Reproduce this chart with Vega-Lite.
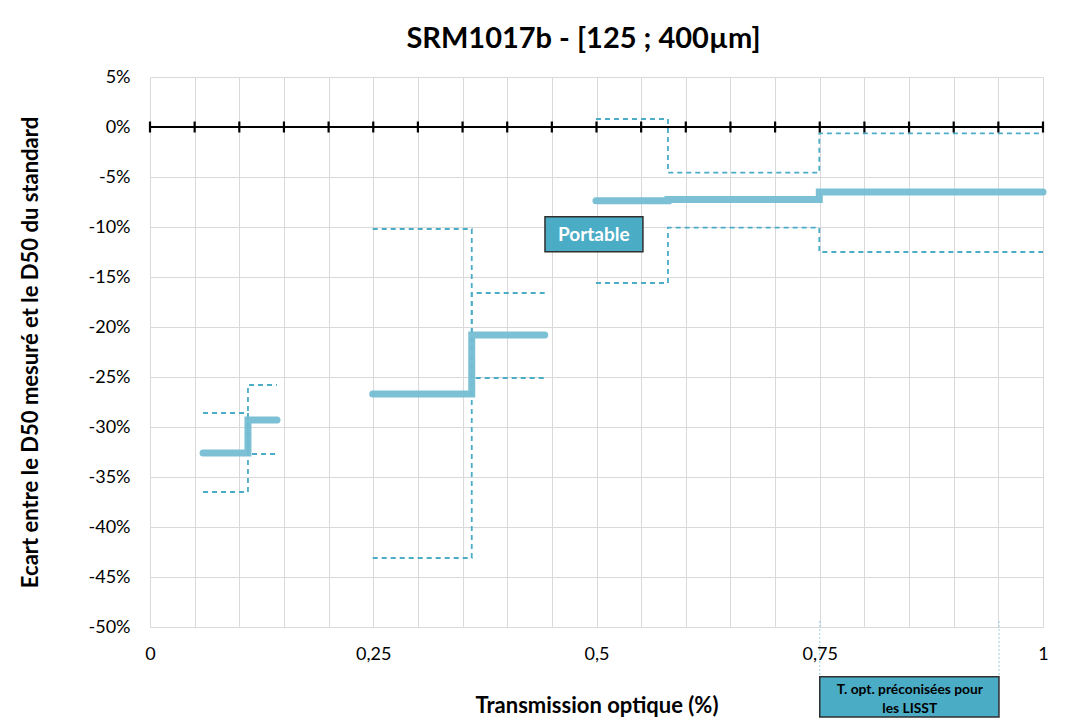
{
  "$schema": "https://vega.github.io/schema/vega-lite/v6.json",
  "width": 893,
  "height": 550,
  "autosize": "none",
  "padding": {"left": 150, "top": 77, "right": 37, "bottom": 94},
  "background": "white",
  "config": {"font": "Lato", "view": {"stroke": null}},
  "title": {"text": "SRM1017b - [125 ; 400µm]", "font": "Lato", "fontSize": 29, "fontWeight": "bold", "color": "#000000", "offset": 14, "dx": -13},
  "datasets": {
    "mean": [
      {"path": "m1", "x": 0.0594, "y": -32.6}, {"path": "m1", "x": 0.1097, "y": -29.3}, {"path": "m1", "x": 0.1422, "y": -29.3},
      {"path": "m2", "x": 0.2494, "y": -26.7}, {"path": "m2", "x": 0.3603, "y": -20.8}, {"path": "m2", "x": 0.442, "y": -20.8},
      {"path": "m3", "x": 0.4994, "y": -7.37}, {"path": "m3", "x": 0.58, "y": -7.25}, {"path": "m3", "x": 0.7495, "y": -6.5}, {"path": "m3", "x": 1.0, "y": -6.5}
    ],
    "bounds": [
      {"path": "a1", "x": 0.0594, "y": -28.6}, {"path": "a1", "x": 0.1097, "y": -32.7}, {"path": "a1", "x": 0.1422, "y": -32.7},
      {"path": "b1", "x": 0.0594, "y": -36.5}, {"path": "b1", "x": 0.1097, "y": -25.8}, {"path": "b1", "x": 0.1422, "y": -25.8},
      {"path": "a2", "x": 0.2494, "y": -10.2}, {"path": "a2", "x": 0.3603, "y": -25.1}, {"path": "a2", "x": 0.442, "y": -25.1},
      {"path": "b2", "x": 0.2494, "y": -43.1}, {"path": "b2", "x": 0.3603, "y": -16.6}, {"path": "b2", "x": 0.442, "y": -16.6},
      {"path": "a3", "x": 0.4994, "y": 0.8}, {"path": "a3", "x": 0.58, "y": -4.57}, {"path": "a3", "x": 0.7495, "y": -0.63}, {"path": "a3", "x": 1.0, "y": -0.63},
      {"path": "b3", "x": 0.4994, "y": -15.6}, {"path": "b3", "x": 0.58, "y": -10.07}, {"path": "b3", "x": 0.7495, "y": -12.5}, {"path": "b3", "x": 1.0, "y": -12.5}
    ],
    "zeroticks": [
      {"x": 0, "y": 0}, {"x": 0.05, "y": 0}, {"x": 0.1, "y": 0}, {"x": 0.15, "y": 0}, {"x": 0.2, "y": 0}, {"x": 0.25, "y": 0}, {"x": 0.3, "y": 0},
      {"x": 0.35, "y": 0}, {"x": 0.4, "y": 0}, {"x": 0.45, "y": 0}, {"x": 0.5, "y": 0}, {"x": 0.55, "y": 0}, {"x": 0.6, "y": 0}, {"x": 0.65, "y": 0},
      {"x": 0.7, "y": 0}, {"x": 0.75, "y": 0}, {"x": 0.8, "y": 0}, {"x": 0.85, "y": 0}, {"x": 0.9, "y": 0}, {"x": 0.95, "y": 0}, {"x": 1.0, "y": 0}
    ],
    "boxes": [
      {"label": "Portable", "x": 0.4423, "x2": 0.552, "y": -8.97, "y2": -12.47},
      {"label": "LISST", "x": 0.75, "x2": 0.9507, "y": -54.97, "y2": -59.0}
    ],
    "boxtext": [
      {"label": "Portable", "text": "Portable", "x": 0.497, "y": -10.8, "color": "white"},
      {"label": "LISST", "text": "T. opt. préconisées pour\nles LISST", "x": 0.8508, "y": -56.3, "color": "black"}
    ],
    "markers": [
      {"x": 0.75, "y": -49.4, "y2": -55.0},
      {"x": 0.9507, "y": -49.4, "y2": -55.0}
    ],
    "zero": [{"y": 0}]
  },
  "encoding": {
    "x": {
      "field": "x", "type": "quantitative",
      "scale": {"domain": [0, 1], "nice": false, "zero": false},
      "axis": {
        "values": [0, 0.05, 0.1, 0.15, 0.2, 0.25, 0.3, 0.35, 0.4, 0.45, 0.5, 0.55, 0.6, 0.65, 0.7, 0.75, 0.8, 0.85, 0.9, 0.95, 1],
        "labelExpr": "(round(datum.value*100) % 25 == 0) ? replace(format(datum.value, '~g'), '.', ',') : ''",
        "labelOverlap": false, "labelFlush": false,
        "grid": true, "gridColor": "#D9D9D9", "gridWidth": 1,
        "domain": false, "ticks": false,
        "labelFont": "Lato", "labelFontSize": 18, "labelColor": "#000000", "labelPadding": 18,
        "title": "Transmission optique (%)", "titleFont": "Lato", "titleFontSize": 22, "titleFontWeight": "bold", "titleColor": "#000000", "titlePadding": 32
      }
    },
    "y": {
      "field": "y", "type": "quantitative",
      "scale": {"domain": [-50, 5], "nice": false, "zero": false},
      "axis": {
        "values": [5, 0, -5, -10, -15, -20, -25, -30, -35, -40, -45, -50],
        "labelExpr": "datum.value + '%'",
        "grid": true, "gridColor": "#D9D9D9", "gridWidth": 1,
        "domain": false, "ticks": false,
        "labelFont": "Lato", "labelFontSize": 18, "labelColor": "#000000", "labelPadding": 20,
        "title": "Ecart entre le D50 mesuré et le D50 du standard", "titleFont": "Lato", "titleFontSize": 22, "titleFontWeight": "bold", "titleColor": "#000000", "titlePadding": 46
      }
    }
  },
  "layer": [
    {
      "data": {"name": "bounds"},
      "mark": {"type": "line", "interpolate": "step-after", "color": "#4BACC6", "strokeWidth": 1.8, "strokeDash": [5, 4]},
      "encoding": {"detail": {"field": "path"}}
    },
    {
      "data": {"name": "mean"},
      "mark": {"type": "line", "interpolate": "step-after", "color": "#74BDD2", "strokeWidth": 7, "strokeCap": "round", "opacity": 0.95},
      "encoding": {"detail": {"field": "path"}}
    },
    {
      "data": {"name": "zero"},
      "mark": {"type": "rule", "color": "#000000", "strokeWidth": 2.2},
      "encoding": {"x": null}
    },
    {
      "data": {"name": "zeroticks"},
      "mark": {"type": "tick", "orient": "vertical", "size": 11, "thickness": 2.2, "color": "#000000", "opacity": 1},
      "encoding": {}
    },
    {
      "data": {"name": "markers"},
      "mark": {"type": "rule", "color": "#9CCFE0", "strokeWidth": 1, "strokeDash": [2, 2]},
      "encoding": {"y2": {"field": "y2"}}
    },
    {
      "data": {"name": "boxes"},
      "mark": {"type": "rect", "fill": "#4BACC6", "stroke": "#2F2F2F", "strokeWidth": 1.5},
      "encoding": {"x2": {"field": "x2"}, "y2": {"field": "y2"}}
    },
    {
      "data": {"name": "boxtext"},
      "mark": {"type": "text", "font": "Lato", "fontWeight": "bold", "align": "center", "baseline": "middle", "lineBreak": "\n", "lineHeight": 19},
      "encoding": {
        "text": {"field": "text"},
        "color": {"field": "color", "type": "nominal", "scale": null},
        "size": {"condition": {"test": "datum.label == 'Portable'", "value": 19}, "value": 13.8}
      }
    }
  ]
}
